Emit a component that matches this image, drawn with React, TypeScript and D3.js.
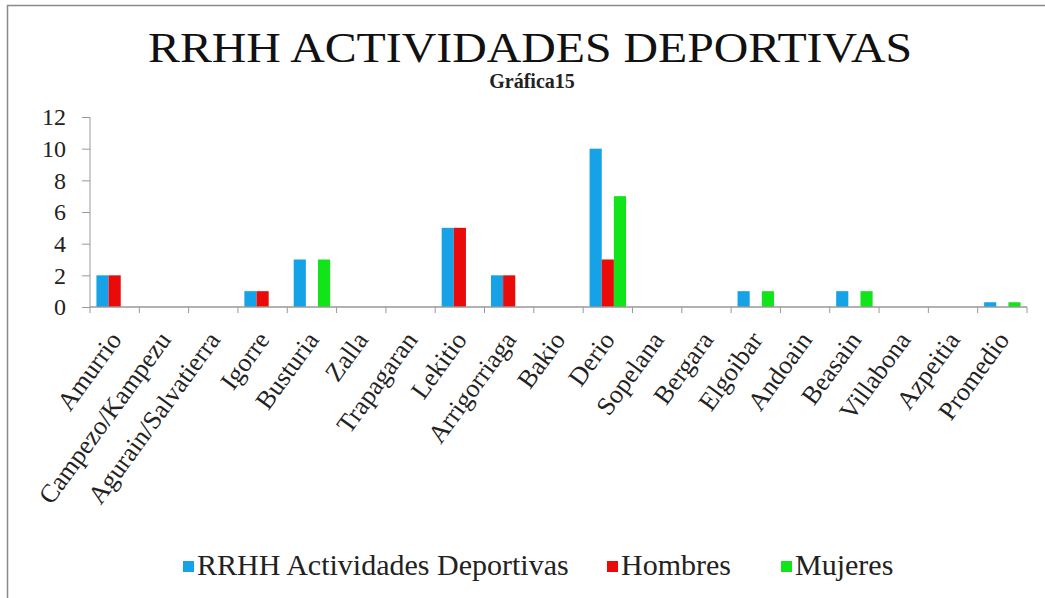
import React, { useRef, useEffect } from "react";
import * as d3 from "d3";

const categories = [
  "Amurrio",
  "Campezo/Kampezu",
  "Agurain/Salvatierra",
  "Igorre",
  "Busturia",
  "Zalla",
  "Trapagaran",
  "Lekitio",
  "Arrigorriaga",
  "Bakio",
  "Derio",
  "Sopelana",
  "Bergara",
  "Elgoibar",
  "Andoain",
  "Beasain",
  "Villabona",
  "Azpeitia",
  "Promedio",
];

const rrhh = [2, 0, 0, 1, 3, 0, 0, 5, 2, 0, 10, 0, 0, 1, 0, 1, 0, 0, 0.3];
const hombres = [2, 0, 0, 1, 0, 0, 0, 5, 2, 0, 3, 0, 0, 0, 0, 0, 0, 0, 0];
const mujeres = [0, 0, 0, 0, 3, 0, 0, 0, 0, 0, 7, 0, 0, 1, 0, 1, 0, 0, 0.3];

const seriesNames = ["RRHH Actividades Deportivas", "Hombres", "Mujeres"];
const seriesColors = ["#16a2e6", "#ea0a0a", "#12e41a"];
const yTicks = [0, 2, 4, 6, 8, 10, 12];

const W = 1045;
const H = 598;
const FONT = "Liberation Serif";

export default function App() {
  const svgRef = useRef<SVGSVGElement>(null);

  useEffect(() => {
    if (!svgRef.current) return;
    const svg = d3.select(svgRef.current);
    svg.selectAll("*").remove();

    const margin = { top: 117, left: 90, right: W - 1027, bottom: H - 307 };
    const innerW = W - margin.left - margin.right;
    const innerH = H - margin.top - margin.bottom;

    // frame
    svg
      .append("rect")
      .attr("x", 7.5)
      .attr("y", 5.5)
      .attr("width", W)
      .attr("height", H)
      .attr("fill", "#fff")
      .attr("stroke", "#8a8a8a")
      .attr("stroke-width", 1.5);

    // title
    svg
      .append("text")
      .attr("x", 530)
      .attr("y", 62)
      .attr("text-anchor", "middle")
      .attr("textLength", 764)
      .attr("lengthAdjust", "spacingAndGlyphs")
      .style("font-family", FONT)
      .style("font-size", "43px")
      .style("fill", "#111")
      .text("RRHH ACTIVIDADES DEPORTIVAS");

    svg
      .append("text")
      .attr("x", 532)
      .attr("y", 88)
      .attr("text-anchor", "middle")
      .style("font-family", FONT)
      .style("font-size", "20px")
      .style("font-weight", "bold")
      .style("fill", "#222")
      .text("Gráfica15");

    const g = svg
      .append("g")
      .attr("transform", `translate(${margin.left},${margin.top})`);

    const x = d3.scaleBand().domain(categories).range([0, innerW]).padding(0);
    const xs = d3
      .scaleBand()
      .domain(seriesNames)
      .range([0, x.bandwidth()])
      .paddingOuter(0.53)
      .paddingInner(0);
    const y = d3.scaleLinear().domain([0, 12]).range([innerH, 0]);

    // Y axis
    const yAxis = g
      .append("g")
      .call(d3.axisLeft(y).tickValues(yTicks).tickSize(8).tickPadding(16));
    yAxis.select(".domain").style("stroke", "#999").attr("d", `M0,0V${innerH}`);
    yAxis.selectAll("line").style("stroke", "#999");
    yAxis
      .selectAll("text")
      .style("font-family", FONT)
      .style("font-size", "24px")
      .style("fill", "#222");

    // bars
    const table = categories.map((c, i) => ({
      cat: c,
      vals: [rrhh[i], hombres[i], mujeres[i]],
    }));
    const groups = g
      .selectAll(".grp")
      .data(table)
      .join("g")
      .attr("class", "grp")
      .attr("transform", (d) => `translate(${x(d.cat)},0)`);
    groups
      .selectAll("rect")
      .data((d) => d.vals.map((v, j) => ({ v, j })))
      .join("rect")
      .attr("x", (d) => xs(seriesNames[d.j]) ?? 0)
      .attr("y", (d) => y(d.v))
      .attr("width", xs.bandwidth())
      .attr("height", (d) => innerH - y(d.v))
      .attr("fill", (d) => seriesColors[d.j]);

    // X axis
    const xAxis = g.append("g").attr("transform", `translate(0,${innerH})`);
    xAxis
      .append("line")
      .attr("x1", 0)
      .attr("x2", innerW)
      .style("stroke", "#999")
      .style("stroke-width", 1.5);
    xAxis
      .selectAll(".tk")
      .data(d3.range(categories.length + 1))
      .join("line")
      .attr("class", "tk")
      .attr("x1", (i) => i * x.step())
      .attr("x2", (i) => i * x.step())
      .attr("y1", 0)
      .attr("y2", 6)
      .style("stroke", "#999");
    xAxis
      .selectAll(".lbl")
      .data(categories)
      .join("text")
      .attr("class", "lbl")
      .attr(
        "transform",
        (d) => `translate(${(x(d) ?? 0) + x.bandwidth() / 2 + 8},33) rotate(-54)`
      )
      .attr("text-anchor", "end")
      .style("font-family", FONT)
      .style("font-size", "26px")
      .style("fill", "#222")
      .text((d) => d);

    // legend
    const legendX = [183, 607, 781];
    const leg = svg
      .selectAll(".leg")
      .data(seriesNames)
      .join("g")
      .attr("class", "leg")
      .attr("transform", (_, i) => `translate(${legendX[i]},561)`);
    leg
      .append("rect")
      .attr("width", 11)
      .attr("height", 11)
      .attr("fill", (_, i) => seriesColors[i]);
    leg
      .append("text")
      .attr("x", 14)
      .attr("y", 14)
      .style("font-family", FONT)
      .style("font-size", "30px")
      .style("fill", "#222")
      .text((d) => d);
  }, []);

  return (
    <svg
      ref={svgRef}
      width={W}
      height={H}
      style={{
        position: "absolute",
        left: 0,
        top: 0,
        background: "#fff",
        fontFamily: FONT,
      }}
    />
  );
}
